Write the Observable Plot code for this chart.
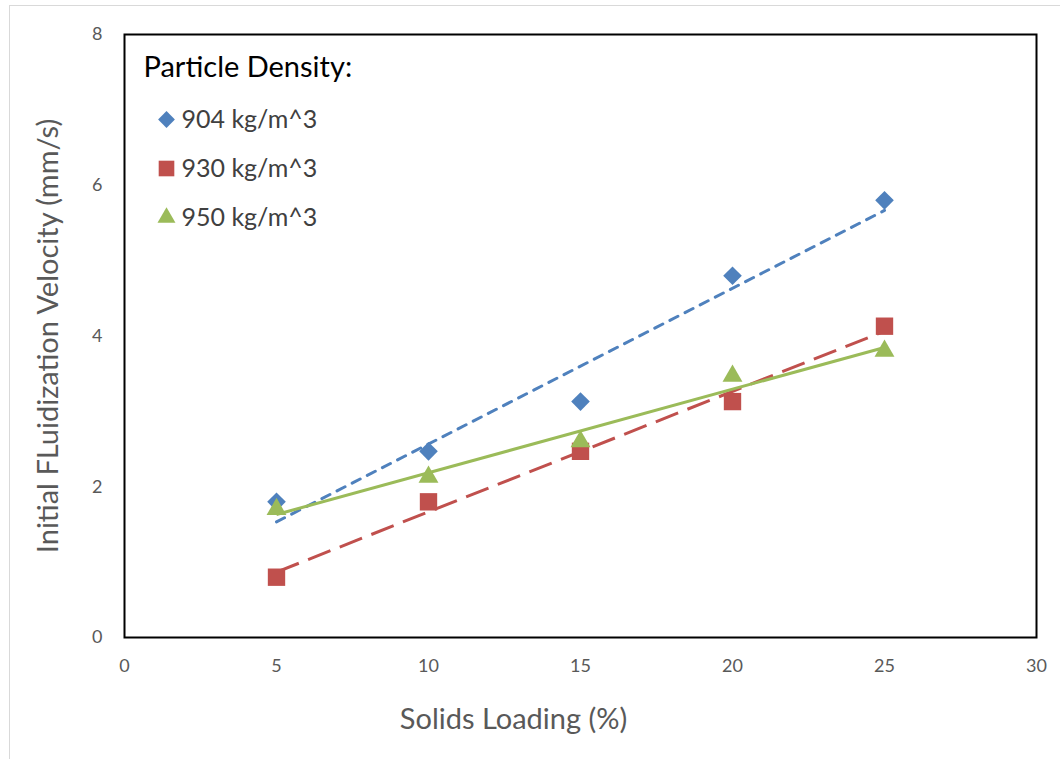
<!DOCTYPE html>
<html><head><meta charset="utf-8">
<script src="https://cdn.jsdelivr.net/npm/d3@7"></script>
<script src="https://cdn.jsdelivr.net/npm/@observablehq/plot@0.6"></script>
<style>
body{margin:0;background:#fff;}
#chart{position:relative;width:1060px;height:759px;overflow:hidden;}
#outer{position:absolute;left:9px;top:5px;width:1100px;height:800px;border:1px solid #d9d9d9;box-sizing:border-box;pointer-events:none;}
#chart svg{position:absolute;left:0;top:0;}
</style></head><body><div id="chart"><div id="outer"></div></div>
<script>
const loading = [5, 10, 15, 20, 25];
const seriesNames = ["904 kg/m^3", "930 kg/m^3", "950 kg/m^3"];
const v904 = [1.8, 2.47, 3.13, 4.8, 5.8];
const v930 = [0.8, 1.8, 2.47, 3.13, 4.13];
const v950 = [1.7, 2.13, 2.6, 3.47, 3.8];
const xTicks = [0, 5, 10, 15, 20, 25, 30];
const yTicks = [0, 2, 4, 6, 8];
const legendTitle = "Particle Density:";
const xTitle = "Solids Loading (%)";
const yTitle = "Initial FLuidization Velocity (mm/s)";

const colors = ["#4F81BD", "#C0504D", "#9BBB59"];
const symbols = ["diamond2", "square", "triangle"];
const radii = [8.4, 9.8, 7.4];
const dashes = ["9,8", "24,10", null];
const caps = ["round", "butt", "butt"];
const allValues = [v904, v930, v950];

const tables = allValues.map((vals, i) => loading.map((x, j) => ({x, y: vals[j], s: seriesNames[i]})));

const font = "Lato, 'Open Sans', sans-serif";
const marks = [];

tables.forEach((t, i) => {
  marks.push(Plot.linearRegressionY(t, {
    x: "x", y: "y", ci: 0, stroke: colors[i], strokeWidth: 3,
    strokeDasharray: dashes[i] || undefined, strokeLinecap: caps[i]
  }));
});
tables.forEach((t, i) => {
  marks.push(Plot.dot(t, {x: "x", y: "y", symbol: () => symbols[i], r: radii[i], fill: colors[i], stroke: "none"}));
});

marks.push(Plot.frame({stroke: "black", strokeWidth: 2}));

marks.push(Plot.axisX(xTicks, {tickSize: 0, tickPadding: 22, fontSize: 18, fill: "#595959", label: null, tickFormat: d => String(d), style: "letter-spacing:3px"}));
marks.push(Plot.axisY(yTicks, {tickSize: 0, tickPadding: 22, fontSize: 18, fill: "#595959", label: null, tickFormat: d => String(d)}));

// axis titles
marks.push(Plot.text([xTitle], {text: d => d, frameAnchor: "bottom", lineAnchor: "middle", textAnchor: "middle", dx: -67, dy: 82, fontSize: 29, fill: "#595959"}));
marks.push(Plot.text([yTitle], {text: d => d, frameAnchor: "left", lineAnchor: "middle", textAnchor: "middle", dx: -76, dy: 0, rotate: -90, fontSize: 29, fill: "#595959"}));

// legend
marks.push(Plot.text([legendTitle], {text: d => d, frameAnchor: "top-left", textAnchor: "start", lineAnchor: "middle", dx: 19, dy: 33, fontSize: 29, fill: "#000"}));
seriesNames.forEach((name, i) => {
  const dy = 85 + i * 49;
  marks.push(Plot.dot([name], {frameAnchor: "top-left", dx: 42, dy, symbol: () => symbols[i], r: radii[i] * 0.9, fill: colors[i], stroke: "none"}));
  marks.push(Plot.text([name], {text: d => d, frameAnchor: "top-left", textAnchor: "start", lineAnchor: "middle", dx: 57, dy, fontSize: 25, fill: "#404040"}));
});

const chart = Plot.plot({
  width: 1060, height: 759,
  marginLeft: 124, marginTop: 34, marginRight: 24, marginBottom: 122,
  style: {fontFamily: font, background: "transparent", overflow: "visible"},
  x: {domain: [0, 30], axis: null},
  y: {domain: [0, 8], axis: null},
  marks
});
document.getElementById("chart").appendChild(chart);
</script></body></html>
